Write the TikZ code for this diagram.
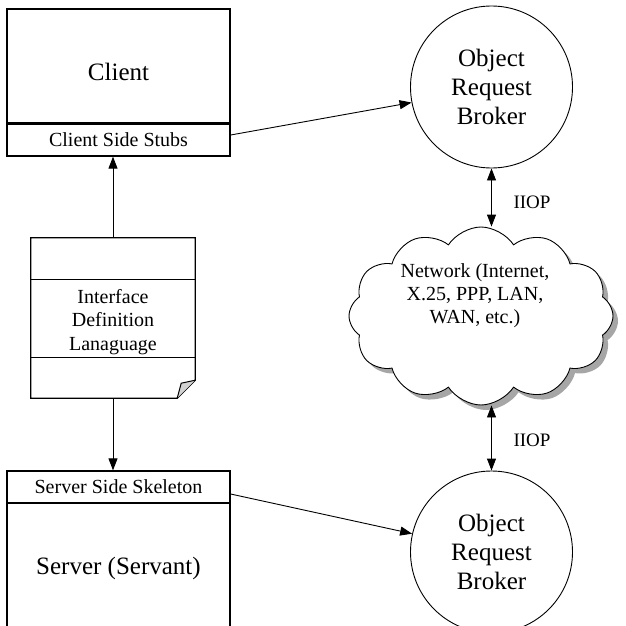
\documentclass[tikz,border=0pt]{standalone}
\usepackage{fontspec}
\setmainfont{Liberation Serif}
\usetikzlibrary{arrows.meta,shapes.symbols,shadows,calc}
\begin{document}
\begin{tikzpicture}[x=1pt,y=-1pt,
  box/.style={draw,line width=1.3pt,rectangle,inner sep=0pt},
  orb/.style={draw,line width=0.9pt,circle,minimum size=162pt,inner sep=0pt,align=center,font=\fontsize{25}{29}\selectfont},
  arr/.style={-{Triangle[length=12pt,width=9pt]},line width=0.9pt},
  darr/.style={{Triangle[length=12pt,width=9pt]}-{Triangle[length=12pt,width=9pt]},line width=0.9pt},
  lbl/.style={font=\fontsize{19}{22}\selectfont}]
\useasboundingbox (0,0) rectangle (625,626);
% client side
\node[box,minimum width=223pt,minimum height=115pt,font=\fontsize{25}{29}\selectfont,text height=28pt] (client) at (118.5,66.5) {Client};
\node[box,minimum width=223pt,minimum height=32pt,font=\fontsize{20}{24}\selectfont] (stubs) at (118.5,140) {Client Side Stubs};
\draw[line width=3pt] (stubs.north west) -- (stubs.north east);
% IDL document
\node[minimum width=164pt,minimum height=160pt,inner sep=0pt] (idl) at (113,318) {};
\draw[line width=1.3pt] (idl.north west) -- (idl.north east) -- ($(idl.south east)+(0,-18)$) -- ($(idl.south east)+(-18,0)$) -- (idl.south west) -- cycle;
\fill[gray!35] ($(idl.south east)+(0,-18)$) -- ($(idl.south east)+(-14,-15)$) -- ($(idl.south east)+(-18,0)$) -- cycle;
\draw[line width=1pt] ($(idl.south east)+(0,-18)$) -- ($(idl.south east)+(-14,-15)$) -- ($(idl.south east)+(-18,0)$);
\draw[line width=1.3pt] ($(idl.north west)+(0,42)$) -- ($(idl.north east)+(0,42)$);
\draw[line width=1.3pt] ($(idl.north west)+(0,120)$) -- ($(idl.north east)+(0,120)$);
\node[align=center,font=\fontsize{20}{23.5}\selectfont] (idltext) at (113,322) {Interface\\Definition\\Lanaguage};
% server side
\node[box,minimum width=223pt,minimum height=32pt,font=\fontsize{20}{24}\selectfont] (skel) at (118.5,487) {Server Side Skeleton};
\node[box,minimum width=223pt,minimum height=130pt,font=\fontsize{25}{29}\selectfont] (server) at (118.5,568) {Server (Servant)};
% ORBs
\node[orb] (orb1) at (491.5,87) {Object\\Request\\Broker};
\node[orb] (orb2) at (491.5,552) {Object\\Request\\Broker};
% cloud
\node[cloud,cloud puffs=12,cloud puff arc=115,cloud ignores aspect,draw,line width=0.9pt,fill=white,
  minimum width=264pt,minimum height=178pt,inner sep=0pt,
  drop shadow={opacity=1,fill=gray!70,shadow xshift=5pt,shadow yshift=-5pt}] (net) at (481,316) {};
\node[align=center,font=\fontsize{20}{23}\selectfont] (nettext) at (475,296) {Network (Internet,\\X.25, PPP, LAN,\\WAN, etc.)};
% connectors
\draw[arr] (idl.north) -- (idl.north |- stubs.south);
\draw[arr] (idl.south) -- (idl.south |- skel.north);
\draw[arr] ([yshift=5pt]stubs.east) -- (orb1.191);
\draw[arr] ([yshift=-7pt]skel.east) -- (orb2.167);
\draw[darr] (orb1.south) -- (orb1.south |- net.north);
\draw[darr] (orb2.north |- net.south) -- (orb2.north);
\node[lbl] (iiop1) at (532,202) {IIOP};
\node[lbl] (iiop2) at (532,440) {IIOP};
\end{tikzpicture}
\end{document}
